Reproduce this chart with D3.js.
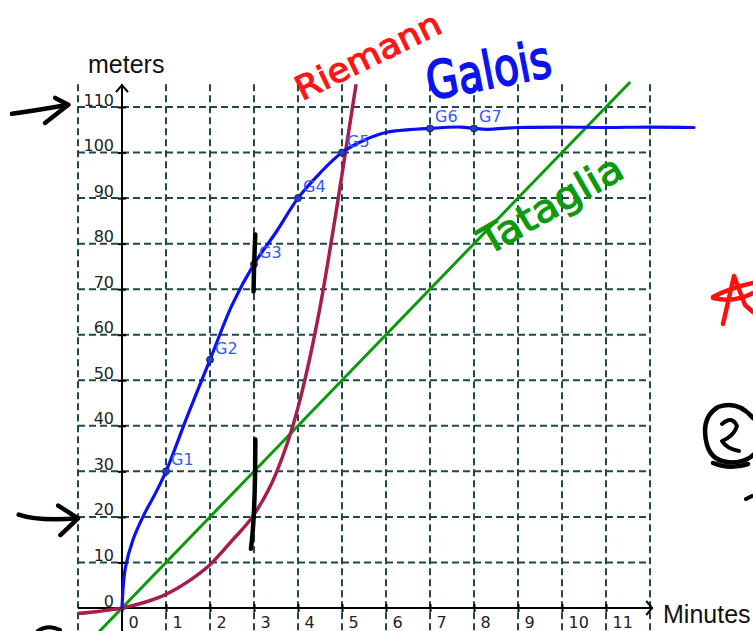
<!DOCTYPE html>
<html><head><meta charset="utf-8">
<script src="https://cdn.jsdelivr.net/npm/d3@7"></script>
<style>html,body{margin:0;padding:0;background:#fff;overflow:hidden}</style>
</head><body>
<svg id="c" width="753" height="631"></svg>
<script>
// ---- data ----
const xTicks = [0,1,2,3,4,5,6,7,8,9,10,11];
const yTicks = [0,10,20,30,40,50,60,70,80,90,100,110];
const gridX = [-1,0,1,2,3,4,5,6,7,8,9,10,11,12];
const gridY = [10,20,30,40,50,60,70,80,90,100,110];

const galoisX = [0,0.03,0.08,0.25,0.5,0.75,1,1.5,2,2.5,3,3.5,4,4.5,5,5.5,6,7,7.7,8,8.3,9,10,11,12,13];
const galoisY = [0,5,9,15,20.5,25,30,42.5,54.5,66.5,75.5,82.5,90,95.5,100,102.7,104.4,105.3,105.6,105.3,105.1,105.5,105.6,105.5,105.6,105.5];

const riemannX = [-1,-0.5,0,0.5,1,1.5,2,2.5,3,3.5,4,4.5,4.9,5.32];
const riemannY = [-1.2,-0.7,0,1.2,3,5.8,9.5,14.8,20.5,29.5,44,66,89,115];

const tatagliaX = [-0.6,11.55];
const tatagliaY = [-6,115.5];

const gLabels = ["G1","G2","G3","G4","G5","G6","G7"];
const gX = [1,2,3,4,5,7,8];
const gY = [30,54.5,75.5,90,100,105.3,105.3];

// ---- drawing ----
const svg = d3.select("#c");
const x = d3.scaleLinear().domain([-1,12]).range([78,650]);
const y = d3.scaleLinear().domain([0,110]).range([608,107]);
const gridCol = "#1d4a47";

// grid
svg.append("g").selectAll("line").data(gridX).join("line")
  .attr("x1",d=>x(d)).attr("x2",d=>x(d))
  .attr("y1",y(115)).attr("y2",631)
  .attr("stroke",gridCol).attr("stroke-width",2).attr("stroke-dasharray","7,4");
svg.append("g").selectAll("line").data(gridY).join("line")
  .attr("x1",x(-1)).attr("x2",x(12))
  .attr("y1",d=>y(d)).attr("y2",d=>y(d))
  .attr("stroke",gridCol).attr("stroke-width",2).attr("stroke-dasharray","7,4");

// axes lines with arrows
svg.append("line").attr("x1",x(-1)).attr("x2",x(12.05)).attr("y1",y(0)).attr("y2",y(0))
  .attr("stroke","#000").attr("stroke-width",2);
svg.append("path").attr("d",`M${x(12.05)-6},${y(0)-7} L${x(12.05)},${y(0)} L${x(12.05)-6},${y(0)+7}`)
  .attr("fill","none").attr("stroke","#000").attr("stroke-width",2);
svg.append("line").attr("x1",x(0)).attr("x2",x(0)).attr("y1",631).attr("y2",y(114.8))
  .attr("stroke","#000").attr("stroke-width",2);
svg.append("path").attr("d",`M${x(0)-6},${y(114.8)+7} L${x(0)},${y(114.8)} L${x(0)+6},${y(114.8)+7}`)
  .attr("fill","none").attr("stroke","#000").attr("stroke-width",2);

// axis ticks and labels
const xa = svg.append("g").attr("transform",`translate(0,${y(0)})`)
  .call(d3.axisBottom(x).tickValues(xTicks).tickSize(5).tickSizeOuter(0));
xa.select(".domain").remove();
xa.selectAll(".tick line").attr("y1",-4).attr("y2",4).attr("stroke","#000").attr("stroke-width",2);
xa.selectAll(".tick text").attr("text-anchor","start").attr("x",6).attr("y",20).attr("dy",0)
  .attr("font-family","DejaVu Sans").attr("font-size",16).attr("fill","#222");

const ya = svg.append("g").attr("transform",`translate(${x(0)},0)`)
  .call(d3.axisLeft(y).tickValues(yTicks).tickSize(4).tickSizeOuter(0));
ya.select(".domain").remove();
ya.selectAll(".tick line").attr("x1",-4).attr("x2",4).attr("stroke","#000").attr("stroke-width",2);
ya.selectAll(".tick text").attr("text-anchor","end").attr("x",-8).attr("y",-2).attr("dy",0)
  .attr("font-family","DejaVu Sans").attr("font-size",16).attr("fill","#222");

svg.append("text").attr("x",88).attr("y",73).text("meters")
  .attr("font-family","Liberation Sans").attr("font-size",25).attr("fill","#111");
svg.append("text").attr("x",663).attr("y",623).text("Minutes")
  .attr("font-family","Liberation Sans").attr("font-size",25).attr("fill","#111");

// curves
const line = d3.line().x(d=>x(d[0])).y(d=>y(d[1]));
svg.append("path").datum(d3.zip(tatagliaX,tatagliaY)).attr("d",line)
  .attr("fill","none").attr("stroke","#0c9a0c").attr("stroke-width",3);
svg.append("path").datum(d3.zip(riemannX,riemannY)).attr("d",line.curve(d3.curveMonotoneX))
  .attr("fill","none").attr("stroke","#a51e4c").attr("stroke-width",3.5);
svg.append("path").datum(d3.zip(galoisX,galoisY)).attr("d",d3.line().x(d=>x(d[0])).y(d=>y(d[1])).curve(d3.curveCatmullRom.alpha(0.5)))
  .attr("fill","none").attr("stroke","#0a10f0").attr("stroke-width",3.2).attr("stroke-linecap","round");

// G points
const gData = d3.zip(gLabels,gX,gY);
svg.append("g").selectAll("circle").data(gData).join("circle")
  .attr("cx",d=>x(d[1])).attr("cy",d=>y(d[2])).attr("r",3.5)
  .attr("fill","#1c3adf").attr("stroke","#1a2550").attr("stroke-width",1);
svg.append("g").selectAll("text").data(gData).join("text")
  .attr("x",d=>x(d[1])+5).attr("y",d=>y(d[2])-6).text(d=>d[0])
  .attr("font-family","DejaVu Sans").attr("font-size",16).attr("fill","#3358ff");

// hand-drawn annotations
const ink = (d,col,w)=>svg.append("path").attr("d",d).attr("fill","none").attr("stroke",col)
  .attr("stroke-width",w).attr("stroke-linecap","round").attr("stroke-linejoin","round");
// black marks at x = 3
ink(`M${x(3.03)},${y(82)} Q${x(3.0)},${y(76)} ${x(2.99)},${y(69.5)}`,"#000",4.5);
ink(`M${x(3.03)},${y(37)} Q${x(3.03)},${y(20)} ${x(2.93)},${y(13)}`,"#000",4.5);
// left arrows
ink(`M${x(-2.5)},${y(108.5)} Q${x(-1.8)},${y(109.5)} ${x(-1.22)},${y(110.5)}`,"#000",4.5);
ink(`M${x(-1.52)},${y(112)} L${x(-1.22)},${y(110.5)} L${x(-1.75)},${y(106.5)}`,"#000",4.5);
ink(`M${x(-2.35)},${y(20.5)} Q${x(-1.9)},${y(19)} ${x(-1.0)},${y(19.7)}`,"#000",4.5);
ink(`M${x(-1.45)},${y(22.5)} L${x(-1.0)},${y(19.7)} L${x(-1.4)},${y(16)}`,"#000",4.5);
// red star at right edge
ink("M723,324 L734,276 L745,305 L753,312 M713,297 Q730,288 753,283 M713,298 Q735,303 753,293","#ff1010",4.5);
// circled 2
ink("M753,418 Q738,400 718,407 Q700,418 707,445 Q713,465 738,462 Q748,460 753,455","#000",4.5);
ink("M713,463 Q730,470 748,464","#000",4.5);
ink("M722,424 Q732,415 737,426 Q734,436 722,441 Q727,449 739,451","#000",4);
ink("M746,499 L752,496","#000",4);
ink("M38,631 Q48,624 60,630","#000",4);

// handwritten labels
svg.append("text").text("Riemann").attr("transform","translate(302,101) rotate(-26)")
  .attr("font-family","DejaVu Sans").attr("font-size",33).attr("fill","#ff1515")
  .attr("stroke","#ff1515").attr("stroke-width",1.2)
  .attr("textLength",158).attr("lengthAdjust","spacingAndGlyphs");
svg.append("text").text("Galois").attr("transform","translate(430,100) rotate(-11)")
  .attr("font-family","DejaVu Sans").attr("font-size",52).attr("fill","#0a14ee")
  .attr("stroke","#0a14ee").attr("stroke-width",1.8)
  .attr("textLength",126).attr("lengthAdjust","spacingAndGlyphs");
svg.append("text").text("Tataglia").attr("transform","translate(488,256) rotate(-30)")
  .attr("font-family","DejaVu Sans").attr("font-size",38).attr("fill","#0c9a0c")
  .attr("stroke","#0c9a0c").attr("stroke-width",1.2)
  .attr("textLength",160).attr("lengthAdjust","spacingAndGlyphs");
</script>
</body></html>
